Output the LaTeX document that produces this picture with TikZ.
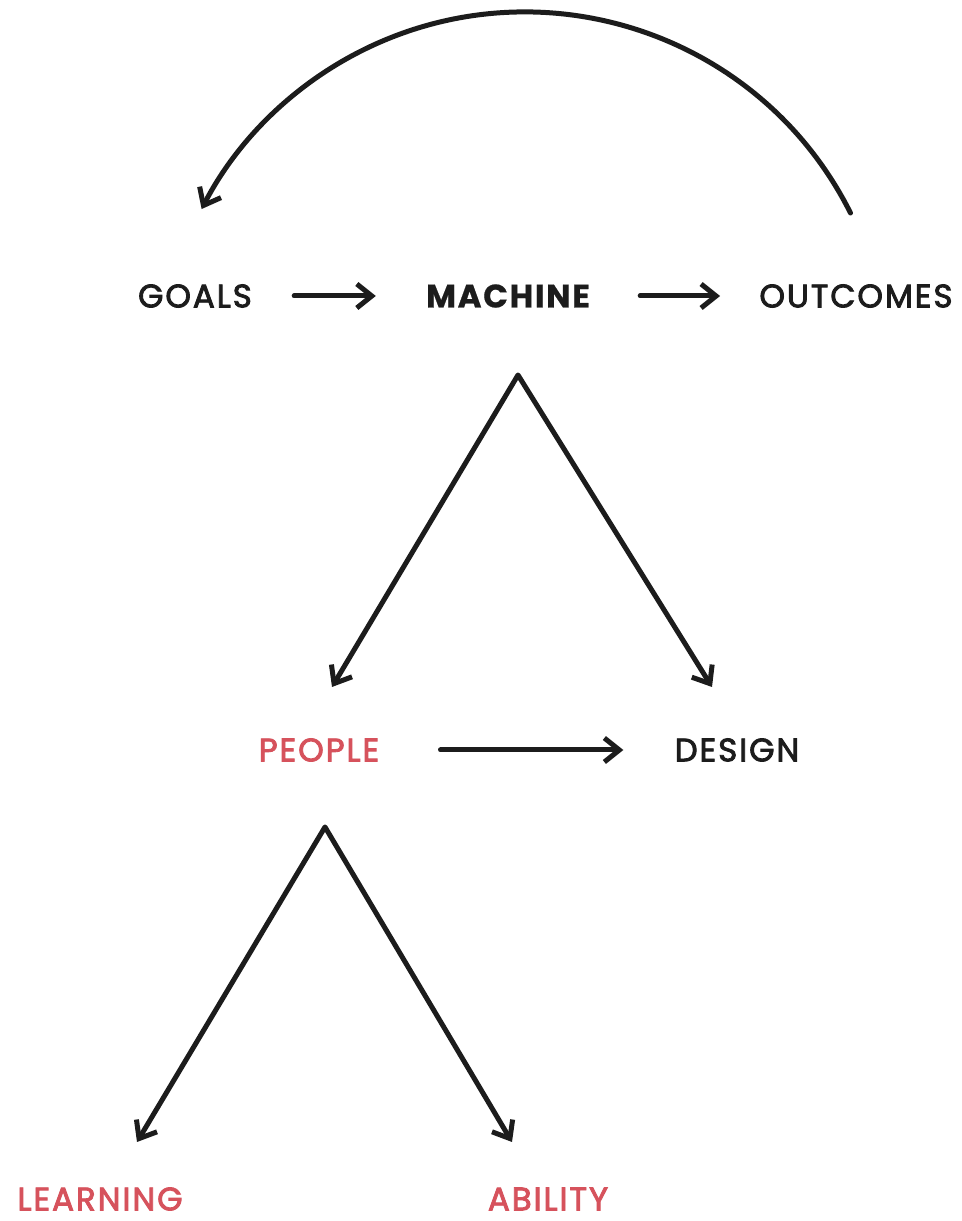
\documentclass[tikz,border=0pt]{standalone}
\usepackage{fontspec}
\setmainfont{Poppins}[LetterSpace=6, FakeBold=2.6]
\newfontfamily\heavyfont{Poppins}[LetterSpace=5, FakeBold=0.6]
\usetikzlibrary{arrows.meta}
\definecolor{inkred}{RGB}{214,82,92}
\definecolor{ink}{RGB}{28,28,28}
\tikzset{
    word/.style={inner sep=0pt, text=ink, font=\fontsize{18.5}{20}\selectfont},
    redword/.style={word, text=inkred},
    barb/.tip={Straight Barb[length=0.3cm, width=0.48cm]},
    flow/.style={draw=ink, line width=0.1cm, line cap=round, line join=round, -barb},
    twoway/.style={flow, barb-barb},
}
\begin{document}
\begin{tikzpicture}[x=0.02cm, y=0.02cm]
    \useasboundingbox[fill=white] (0,0) rectangle (961,1221);
    \node[word] (goals) at (195,925) {GOALS};
    \node[word, font=\fontsize{18.5}{20}\heavyfont\bfseries] (machine) at (508,925) {MACHINE};
    \node[word] (outcomes) at (856,925) {OUTCOMES};
    \node[redword] (people) at (319,471) {PEOPLE};
    \node[word] (design) at (737,471) {DESIGN};
    \node[redword] (learning) at (100,22) {LEARNING};
    \node[redword] (ability) at (548,22) {ABILITY};
    \draw[flow, shorten <=0.84cm, shorten >=1cm] (goals) -- (machine);
    \draw[flow, shorten <=1cm, shorten >=0.78cm] (machine) -- (outcomes);
    \draw[flow, shorten <=1.22cm, shorten >=1.02cm] (people) -- (design);
    \coordinate (loopstart) at (850.5,1008);
    \draw[flow] (loopstart) arc (26.6:152.7:364);
    \coordinate (top1) at (518,846);
    \coordinate (tip1l) at (332,534);
    \coordinate (tip1r) at (712,534);
    \draw[twoway] (tip1l) -- (top1) -- (tip1r);
    \coordinate (top2) at (325,394);
    \coordinate (tip2l) at (137,79);
    \coordinate (tip2r) at (512,79);
    \draw[twoway] (tip2l) -- (top2) -- (tip2r);
\end{tikzpicture}
\end{document}
